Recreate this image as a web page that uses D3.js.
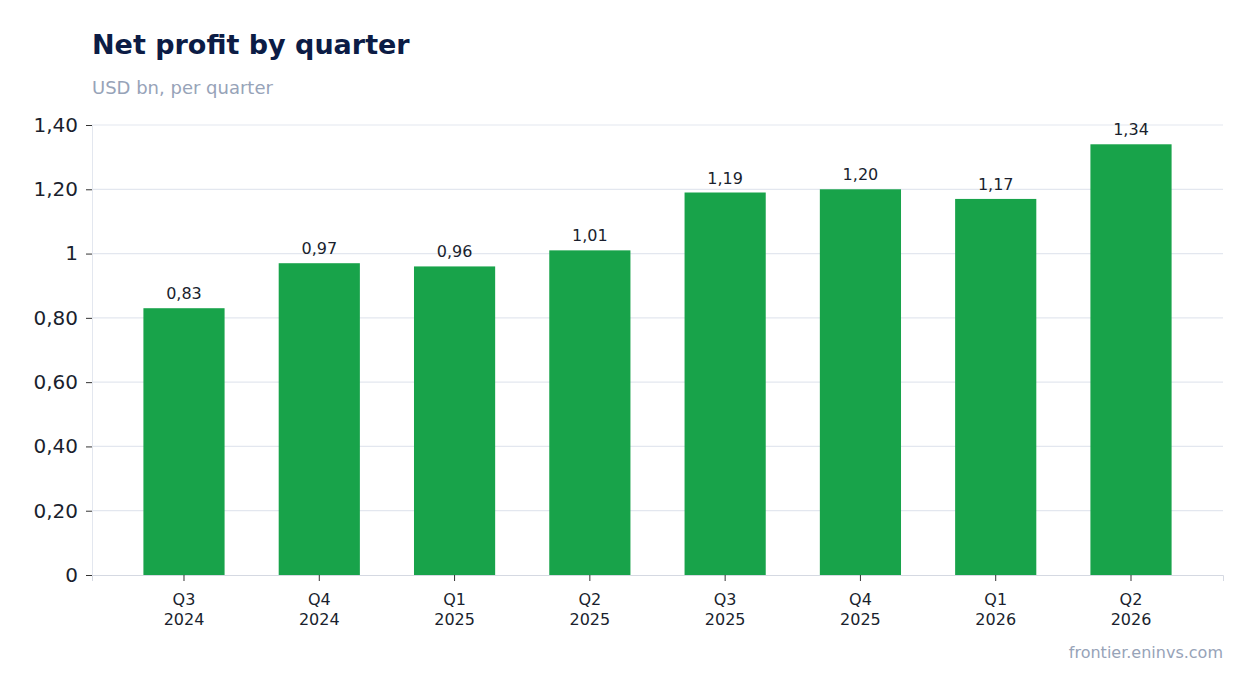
<!DOCTYPE html>
<html><head><meta charset="utf-8">
<script src="https://cdn.jsdelivr.net/npm/d3@7"></script>
<style>body{margin:0;background:#fff}</style></head>
<body><svg id="c" width="1254" height="693"></svg>
<script>
const quarters=["Q3","Q4","Q1","Q2","Q3","Q4","Q1","Q2"];
const years=["2024","2024","2025","2025","2025","2025","2026","2026"];
const values=[0.83,0.97,0.96,1.01,1.19,1.20,1.17,1.34];
const yTicks=[0,0.2,0.4,0.6,0.8,1,1.2,1.4];
const yTickLabels=["0","0,20","0,40","0,60","0,80","1","1,20","1,40"];
const svg=d3.select("#c");
const font="DejaVu Sans, sans-serif";
const L=92,R=1223,T=125,B=575;
const x=d3.scaleBand().domain(d3.range(values.length)).range([L,R]).paddingInner(0.4).paddingOuter(0.38);
const y=d3.scaleLinear().domain([0,1.4]).range([B,T]);
svg.append("text").attr("x",92).attr("y",54).attr("font-family",font).attr("font-weight","bold").attr("font-size",27).attr("fill","#0c1c45").text("Net profit by quarter");
svg.append("text").attr("x",92).attr("y",94).attr("font-family",font).attr("font-size",18).attr("fill","#97a3b8").text("USD bn, per quarter");
svg.append("g").selectAll("line").data(yTicks.slice(1)).join("line").attr("x1",L).attr("x2",R).attr("y1",d=>y(d)).attr("y2",d=>y(d)).attr("stroke","#e3e7ef").attr("stroke-width",1.2);
const ya=svg.append("g").attr("transform",`translate(${L},0)`).call(d3.axisLeft(y).tickValues(yTicks).tickFormat((d,i)=>yTickLabels[i]).tickSize(6).tickPadding(8));
ya.select(".domain").attr("stroke","#e3e7ef");
ya.selectAll(".tick line").attr("stroke","#333");
ya.selectAll("text").attr("font-family",font).attr("font-size",20).attr("fill","#1a1f2e");
svg.append("g").selectAll("rect").data(values).join("rect").attr("x",(d,i)=>x(i)).attr("width",x.bandwidth()).attr("y",d=>y(d)).attr("height",d=>B-y(d)).attr("fill","#18a34a");
svg.append("g").selectAll("text").data(values).join("text").attr("x",(d,i)=>x(i)+x.bandwidth()/2).attr("y",d=>y(d)-9).attr("text-anchor","middle").attr("font-family",font).attr("font-size",16).attr("fill","#1a1f2e").text(d=>d.toFixed(2).replace(".",","));
const xa=svg.append("g").attr("transform",`translate(0,${B})`).call(d3.axisBottom(x).tickSize(6).tickFormat(()=>""));
xa.select(".domain").attr("stroke","#d5d9e2");
xa.selectAll(".tick line").attr("stroke","#333");
xa.selectAll(".tick").each(function(d){
 const t=d3.select(this).append("text").attr("fill","#1a1f2e").attr("font-family",font).attr("font-size",16).attr("text-anchor","middle");
 t.append("tspan").attr("x",0).attr("y",30).text(quarters[d]);
 t.append("tspan").attr("x",0).attr("y",50).text(years[d]);
});
svg.append("text").attr("x",1223).attr("y",658).attr("text-anchor","end").attr("font-family",font).attr("font-size",16).attr("fill","#97a3b8").text("frontier.eninvs.com");
</script></body></html>
